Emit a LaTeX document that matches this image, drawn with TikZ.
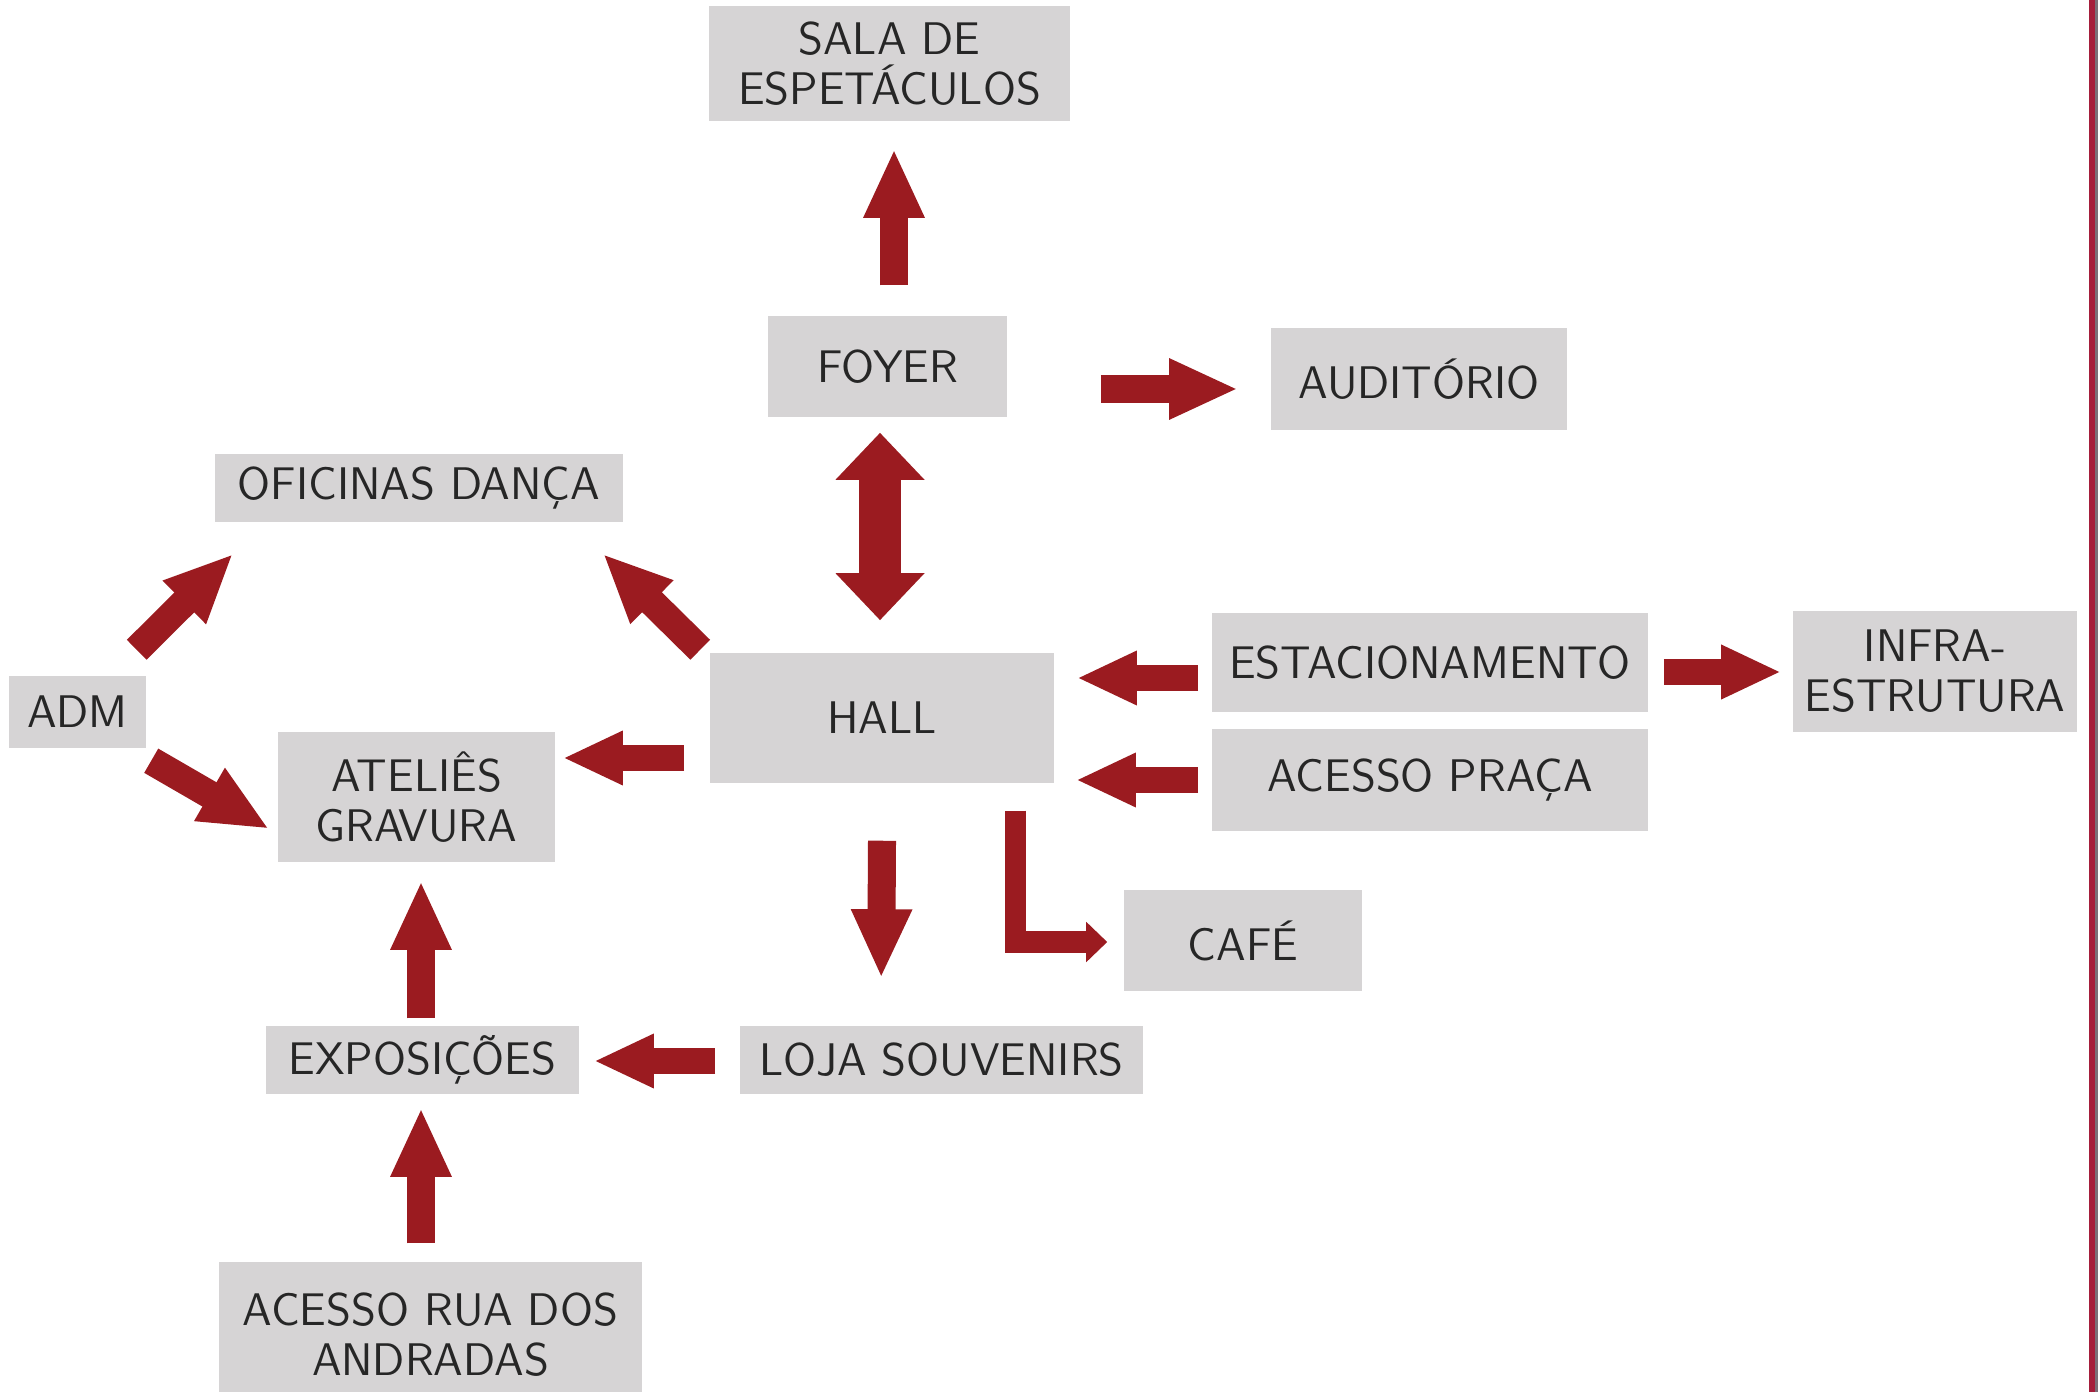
\documentclass[tikz,border=0pt]{standalone}
\usepackage{xcolor}
\usetikzlibrary{arrows.meta, calc}

\definecolor{boxgray}{HTML}{D6D4D5}
\definecolor{arrowred}{HTML}{9B1B20}
\definecolor{edgered}{HTML}{A51E3B}
\definecolor{edgegray}{HTML}{7B6F78}
\definecolor{txt}{HTML}{262626}

\begin{document}
\begin{tikzpicture}[
    x=0.01cm, y=-0.01cm,
    room/.style={fill=boxgray, inner sep=0pt, align=center, text=txt,
        font=\sffamily\fontsize{13}{14.2}\selectfont},
    arr/.style={arrowred, line width=0.28cm, -{Triangle[width=0.56cm, length=0.69cm]}},
    arrs/.style={arrowred, line width=0.25cm, -{Triangle[width=0.50cm, length=0.60cm]}},
    arrl/.style={arrowred, line width=0.21cm, line join=miter, -{Triangle[width=0.39cm, length=0.21cm]}},
    arrd/.style={arrowred, line width=0.42cm, {Triangle[width=0.86cm, length=0.47cm]}-{Triangle[width=0.86cm, length=0.47cm]}}
]
\useasboundingbox (0,0) rectangle (2098,1392);

\node[room, minimum width=3.60cm, minimum height=1.14cm] (sala) at (889.5,63.5) {SALA DE\\ESPETÁCULOS};
\node[room, minimum width=2.39cm, minimum height=1.01cm] (foyer) at (887.5,366.5) {FOYER};
\node[room, minimum width=2.96cm, minimum height=1.02cm] (audit) at (1419,379) {AUDITÓRIO};
\node[room, minimum width=4.08cm, minimum height=0.68cm] (ofic) at (419,488) {OFICINAS DANÇA};
\node[room, minimum width=1.37cm, minimum height=0.72cm] (adm) at (77.5,712) {ADM};
\node[room, minimum width=2.77cm, minimum height=1.30cm] (atel) at (416.5,797) {ATELIÊS\\GRAVURA};
\node[room, minimum width=3.44cm, minimum height=1.30cm] (hall) at (882,718) {HALL};
\node[room, minimum width=4.36cm, minimum height=0.99cm] (estac) at (1430,662.5) {ESTACIONAMENTO};
\node[room, minimum width=4.36cm, minimum height=1.02cm] (praca) at (1430,780) {ACESSO PRAÇA};
\node[room, minimum width=2.84cm, minimum height=1.21cm] (infra) at (1935,671.5) {INFRA-\\ESTRUTURA};
\node[room, minimum width=2.38cm, minimum height=1.01cm] (cafe) at (1243,940.5) {CAFÉ};
\node[room, minimum width=4.03cm, minimum height=0.68cm] (loja) at (941.5,1060) {LOJA SOUVENIRS};
\node[room, minimum width=3.13cm, minimum height=0.68cm] (expo) at (422.5,1060) {EXPOSIÇÕES};
\node[room, minimum width=4.23cm, minimum height=1.46cm] (rua) at (430.5,1335) {ACESSO RUA DOS\\ANDRADAS};

% fluxos
\draw[arr] ($(foyer.north)+(6.5,-30)$) -- ($(sala.south)+(4.5,27.5)$);
\draw[arr] ($(foyer.east)+(93,22.5)$) -- ($(audit.west)+(-32,10)$);
\draw[arrd] ($(foyer.south)+(-7.5,15)$) -- ($(hall.north)+(-2,-32)$);
\draw[arr] ($(hall.north west)+(-9,-2.5)$) -- ($(ofic.south east)+(-21,31)$);
\draw[arr] ($(adm.north east)+(-10,-25.5)$) -- ($(ofic.south west)+(19,31)$);
\draw[arr] ($(adm.south east)+(4.5,12)$) -- ($(atel.west)+(-8,32)$);
\draw[arrs] ($(hall.west)+(-25,40)$) -- ($(atel.east)+(7,-39)$);
\draw[arrs] ($(estac.west)+(-13,15.5)$) -- ($(hall.east)+(22,-40)$);
\draw[arrs] ($(praca.west)+(-13,0)$) -- ($(hall.east)+(21,62)$);
\draw[arrs] ($(estac.east)+(15,9.5)$) -- ($(infra.west)+(-11,0.5)$);
\draw[arr] ($(hall.south)+(0,57)$) -- ($(loja.north west)+(142,-47)$);
\draw[arrl] ($(hall.south east)+(-39.5,27)$) |- ($(cafe.west)+(-16,1.5)$);
\draw[arrs] ($(loja.west)+(-24,1)$) -- ($(expo.east)+(14,1)$);
\draw[arr] ($(expo.north)+(-1.5,-7)$) -- ($(atel.south)+(4.5,18)$);
\draw[arr] ($(rua.north)+(-9.5,-18)$) -- ($(expo.south)+(-1.5,13)$);

% borda da pagina
\fill[edgered] (2089,0) rectangle (2095,1392);
\fill[edgegray] (2095,0) rectangle (2098,1392);
\end{tikzpicture}
\end{document}
